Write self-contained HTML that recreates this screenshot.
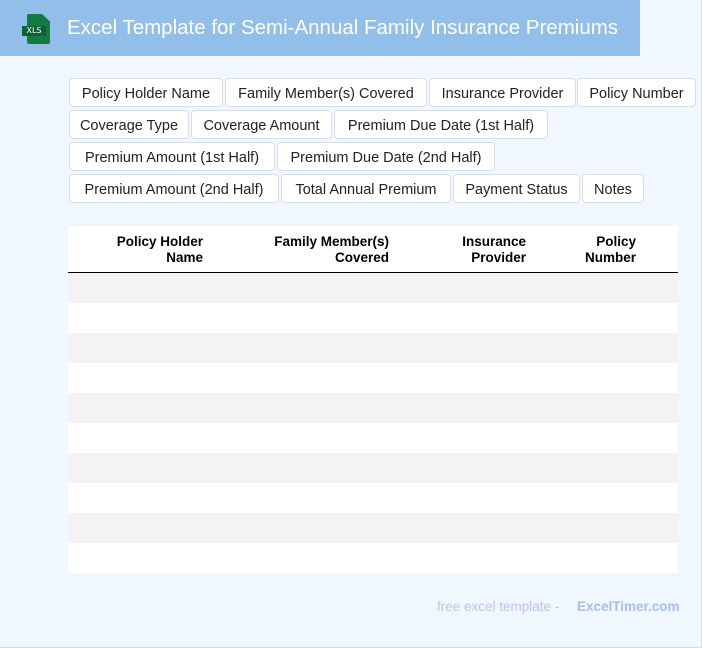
<!DOCTYPE html>
<html><head><style>
*{margin:0;padding:0;box-sizing:border-box}
body{width:702px;height:648px;background:#f0f7ff;font-family:"Liberation Sans",sans-serif;position:relative;overflow:hidden;border-right:1px solid #d5dee9;border-bottom:1px solid #d5dee9}
.hdr{position:absolute;left:0;top:0;width:640px;height:56px;background:#92bfea}
.hdr .t{position:absolute;left:67px;top:16px;color:#fff;font-size:20.5px;white-space:nowrap}
.icon{position:absolute;left:27px;top:14px;width:23px;height:30px;background:#127a43;border-radius:2px;clip-path:polygon(0 0,65% 0,100% 25%,100% 100%,0 100%)}
.lbl{position:absolute;left:22px;top:26px;width:24px;height:10px;background:#0e6035;color:#fff;font-size:8px;line-height:10px;text-align:center;font-family:"DejaVu Sans",sans-serif}
.tag{position:absolute;height:29px;background:#fff;border:1px solid #d5dee9;border-radius:4px;font-size:14.5px;line-height:30px;color:#222;text-align:center;white-space:nowrap}
.tbl{position:absolute;left:68px;top:226px;width:610px;height:347px;background:#fff}
.th{position:absolute;top:8px;font-weight:bold;font-size:13.5px;line-height:16px;text-align:right;color:#000}
.line{position:absolute;left:0;top:46px;width:610px;height:1.5px;background:#000}
.row{position:absolute;left:0;width:610px;height:30px;background:#f3f3f3}
.ft{position:absolute;top:599px;font-size:13.5px;color:#b6c6ef}
</style></head><body>
<div class="hdr"><div class="icon"></div><div class="lbl">XLS</div><div class="t">Excel Template for Semi-Annual Family Insurance Premiums</div></div>
<div class="tag" style="left:69px;top:78px;width:154px">Policy Holder Name</div>
<div class="tag" style="left:225px;top:78px;width:202px">Family Member(s) Covered</div>
<div class="tag" style="left:429px;top:78px;width:147px">Insurance Provider</div>
<div class="tag" style="left:577px;top:78px;width:119px">Policy Number</div>
<div class="tag" style="left:69px;top:110px;width:120px">Coverage Type</div>
<div class="tag" style="left:191px;top:110px;width:141px">Coverage Amount</div>
<div class="tag" style="left:334px;top:110px;width:214px">Premium Due Date (1st Half)</div>
<div class="tag" style="left:69px;top:142px;width:206px">Premium Amount (1st Half)</div>
<div class="tag" style="left:277px;top:142px;width:218px">Premium Due Date (2nd Half)</div>
<div class="tag" style="left:69px;top:174px;width:210px">Premium Amount (2nd Half)</div>
<div class="tag" style="left:281px;top:174px;width:170px">Total Annual Premium</div>
<div class="tag" style="left:453px;top:174px;width:127px">Payment Status</div>
<div class="tag" style="left:582px;top:174px;width:62px">Notes</div>
<div class="tbl">
<div class="th" style="right:475px">Policy Holder<br>Name</div>
<div class="th" style="right:289px">Family Member(s)<br>Covered</div>
<div class="th" style="right:152px">Insurance<br>Provider</div>
<div class="th" style="right:42px">Policy<br>Number</div>
<div class="line"></div>
<div class="row" style="top:47px"></div>
<div class="row" style="top:107px"></div>
<div class="row" style="top:167px"></div>
<div class="row" style="top:227px"></div>
<div class="row" style="top:287px"></div>
</div>
<div class="ft" style="left:437px">free excel template -</div>
<div class="ft" style="left:577px;font-weight:bold;color:#a8bdf0">ExcelTimer.com</div>
</body></html>
